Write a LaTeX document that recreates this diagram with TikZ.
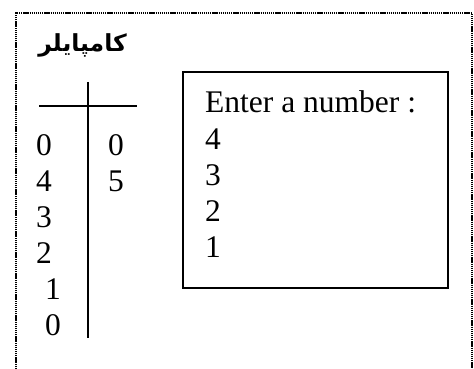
\documentclass[tikz,border=0pt]{standalone}
\usepackage{fontspec}
\setmainfont{Liberation Serif}
\newfontfamily\arabicfont[Script=Arabic]{DejaVu Sans}
\TeXXeTstate=1
\tikzset{
  frame/.style={line width=1.6pt, dash pattern=on 1.3pt off 0.8pt},
  num/.style={anchor=base west, inner sep=0pt, font=\fontsize{31.5}{36}\selectfont},
  title/.style={anchor=east, inner sep=0pt, font=\fontsize{23.5}{28}\selectfont\arabicfont\bfseries},
  bar/.style={line width=2pt},
  box/.style={line width=2pt}
}
\begin{document}
\begin{tikzpicture}[x=1pt,y=-1pt]
    \useasboundingbox (0,0) rectangle (474,369);
    \draw[frame] (16,369) -- (16,13) -- (472,13) -- (472,369);
    \node[title] (T) at (127,45) {\beginR کامپایلر\endR};
    % the cross
    \coordinate (HL) at (39,106);
    \coordinate (HR) at (137,106);
    \coordinate (VT) at (88,82);
    \coordinate (VB) at (88,338);
    \draw[bar] (HL) -- (HR);
    \draw[bar] (VT) -- (VB);
    \foreach \v/\x [count=\i] in {0/36,4/36,3/36,2/36,1/45,0/45} {
        \node[num] (L\i) at (\x,119+36*\i) {\v};
    }
    \foreach \v [count=\i] in {0,5} {
        \node[num] (R\i) at (108,119+36*\i) {\v};
    }
    % output window
    \draw[box] (183,72) rectangle (448,288);
    \node[num] (E0) at (205,113) {Enter a number :};
    \foreach \v [count=\i] in {4,3,2,1} {
        \node[num] (E\i) at (205,113+36*\i) {\v};
    }
\end{tikzpicture}
\end{document}
